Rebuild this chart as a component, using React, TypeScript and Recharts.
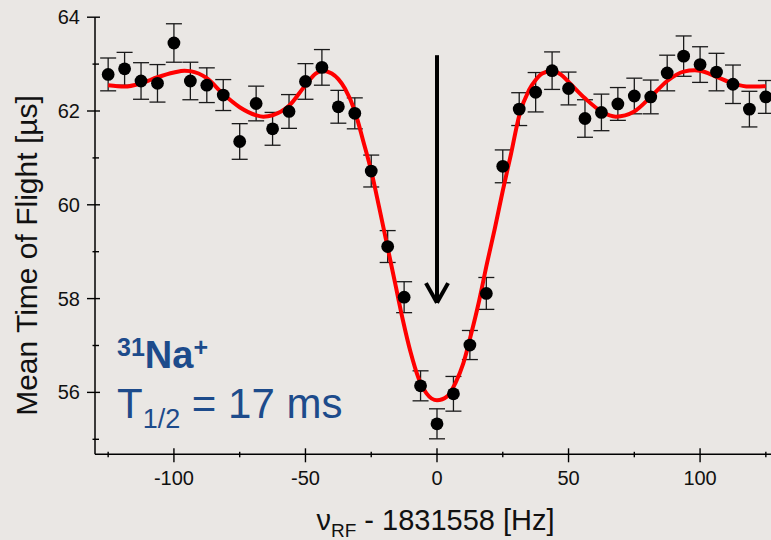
import {
  ComposedChart,
  ErrorBar,
  Line,
  ReferenceLine,
  Scatter,
  XAxis,
  YAxis,
} from "recharts";

// scan points: RF detuning (Hz) and mean time of flight (µs)
const freqs = [
  -125, -118.75, -112.5, -106.25, -100, -93.75, -87.5, -81.25, -75, -68.75, -62.5,
  -56.25, -50, -43.75, -37.5, -31.25, -25, -18.75, -12.5, -6.25, 0, 6.25, 12.5,
  18.75, 25, 31.25, 37.5, 43.75, 50, 56.25, 62.5, 68.75, 75, 81.25, 87.5, 93.75,
  100, 106.25, 112.5, 118.75, 125,
];
const tof = [
  62.78, 62.9, 62.64, 62.59, 63.45, 62.64, 62.55, 62.34, 61.35, 62.16, 61.62,
  61.99, 62.63, 62.93, 62.09, 61.95, 60.72, 59.11, 58.03, 56.14, 55.33, 55.97,
  57.01, 58.11, 60.82, 62.04, 62.4, 62.86, 62.48, 61.84, 61.97, 62.15, 62.32,
  62.3, 62.81, 63.17, 62.99, 62.83, 62.57, 62.04, 62.3,
];
const tofErr = [
  0.35, 0.35, 0.39, 0.4, 0.41, 0.4, 0.37, 0.33, 0.38, 0.37, 0.35, 0.36, 0.38,
  0.38, 0.35, 0.33, 0.34, 0.34, 0.33, 0.32, 0.32, 0.37, 0.31, 0.34, 0.35, 0.35,
  0.42, 0.4, 0.35, 0.4, 0.39, 0.35, 0.38, 0.36, 0.38, 0.43, 0.38, 0.4, 0.41,
  0.38, 0.35,
];

// fitted resonance curve
const fitFreqs = [
  -125, -118.75, -112.5, -106.25, -100, -96, -93.75, -87.5, -81.25, -75, -68.75,
  -66, -62.5, -56.25, -50, -46, -43.5, -40, -37.5, -35, -31.25, -28, -25, -22,
  -19, -16, -13, -10, -7, -4, 0, 4, 7, 10, 13, 16, 19, 22, 25, 28, 31.25, 35,
  37.5, 40, 43.75, 47, 50, 56.25, 62.5, 68, 75, 81.25, 87.5, 93.75, 98, 100,
  106.25, 112.5, 118.75, 125,
];
const fitTof = [
  62.55, 62.52, 62.59, 62.72, 62.82, 62.86, 62.85, 62.7, 62.36, 62.08, 61.91,
  61.88, 61.91, 62.11, 62.55, 62.8, 62.86, 62.8, 62.68, 62.48, 62.0, 61.35,
  60.72, 59.95, 59.15, 58.35, 57.55, 56.85, 56.3, 55.98, 55.83, 55.92, 56.2,
  56.62, 57.25, 57.95, 58.75, 59.5, 60.3, 61.05, 61.9, 62.45, 62.66, 62.8,
  62.86, 62.78, 62.62, 62.27, 61.99, 61.88, 61.99, 62.3, 62.64, 62.84, 62.87,
  62.86, 62.73, 62.59, 62.52, 62.53,
];

const xTicks = [-125, -100, -75, -50, -25, 0, 25, 50, 75, 100, 125];
const yTicks = [55, 56, 57, 58, 59, 60, 61, 62, 63, 64];

// arrow marking the centre frequency
const arrowTop = 63.19;
const arrowTip = 57.91;
const arrowWing = 58.33;
const arrowHalf = 4.2;

const scan = freqs.map((freq, i) => ({ freq, tof: tof[i], err: tofErr[i] }));
const fit = fitFreqs.map((freq, i) => ({ freq, fit: fitTof[i] }));

const FONT = "'Liberation Sans', Arial, sans-serif";
const BLUE = "#1d4b8b";

function BottomTick({ x, y, payload }: any) {
  const major = payload.value % 50 === 0;
  return (
    <g>
      <line
        x1={x}
        x2={x}
        y1={y - (major ? 6 : 2.5)}
        y2={y + (major ? 8 : 3)}
        stroke="#000"
        strokeWidth={1.4}
      />
      {major && (
        <text x={x} y={y + 31} textAnchor="middle" fontSize={20} fontFamily={FONT} fill="#111">
          {payload.value}
        </text>
      )}
    </g>
  );
}

function TopTick({ x, y, payload }: any) {
  const major = payload.value % 50 === 0;
  return <line x1={x} x2={x} y1={y} y2={y + (major ? 5 : 4)} stroke="#000" strokeWidth={1.4} />;
}

function LeftTick({ x, y, payload }: any) {
  const major = payload.value % 2 === 0;
  return (
    <g>
      <line
        x1={x - (major ? 8 : 2.5)}
        x2={x + (major ? 5 : 4)}
        y1={y}
        y2={y}
        stroke="#000"
        strokeWidth={1.4}
      />
      {major && (
        <text x={x - 15} y={y + 7} textAnchor="end" fontSize={20} fontFamily={FONT} fill="#111">
          {payload.value}
        </text>
      )}
    </g>
  );
}

const Dot = (p: any) => <circle cx={p.cx} cy={p.cy} r={6.4} fill="#000" />;

export default function App() {
  return (
    <div
      style={{
        position: "relative",
        width: 771,
        height: 540,
        overflow: "hidden",
        background: "#eae7e4",
      }}
    >
      <style>{"body{margin:0;overflow:hidden}"}</style>
      <ComposedChart
        width={800}
        height={540}
        margin={{ top: 17.2, right: 21, bottom: 45.7, left: 0 }}
      >
        <XAxis
          dataKey="freq"
          type="number"
          domain={[-130, 130]}
          ticks={xTicks}
          allowDataOverflow
          height={40}
          tickSize={0}
          tickMargin={0}
          tickLine={false}
          axisLine={{ stroke: "#000", strokeWidth: 1.5 }}
          tick={<BottomTick />}
          interval={0}
        />
        <XAxis
          xAxisId="top"
          orientation="top"
          dataKey="freq"
          type="number"
          domain={[-130, 130]}
          ticks={xTicks}
          allowDataOverflow
          height={0}
          tickSize={0}
          tickMargin={0}
          tickLine={false}
          axisLine={{ stroke: "#000", strokeWidth: 1.5 }}
          tick={<TopTick />}
          interval={0}
        />
        <YAxis
          type="number"
          domain={[54.68, 64]}
          ticks={yTicks}
          allowDataOverflow
          width={95}
          tickSize={0}
          tickMargin={0}
          tickLine={false}
          axisLine={{ stroke: "#000", strokeWidth: 1.5 }}
          tick={<LeftTick />}
          interval={0}
        />
        <Scatter data={scan} dataKey="tof" shape={Dot} isAnimationActive={false}>
          <ErrorBar
            dataKey="err"
            direction="y"
            width={8}
            stroke="#1a1a1a"
            strokeWidth={1.3}
            isAnimationActive={false}
          />
        </Scatter>
        <Line
          data={fit}
          dataKey="fit"
          type="monotone"
          stroke="#ff0000"
          strokeWidth={4}
          dot={false}
          activeDot={false}
          isAnimationActive={false}
        />
        <ReferenceLine
          segment={[
            { x: 0, y: arrowTop },
            { x: 0, y: arrowTip },
          ]}
          stroke="#000"
          strokeWidth={4}
          ifOverflow="visible"
        />
        <ReferenceLine
          segment={[
            { x: -arrowHalf, y: arrowWing },
            { x: 0, y: arrowTip },
          ]}
          stroke="#000"
          strokeWidth={4}
          ifOverflow="visible"
        />
        <ReferenceLine
          segment={[
            { x: arrowHalf, y: arrowWing },
            { x: 0, y: arrowTip },
          ]}
          stroke="#000"
          strokeWidth={4}
          ifOverflow="visible"
        />
      </ComposedChart>
      <svg
        width={771}
        height={540}
        style={{ position: "absolute", left: 0, top: 0, pointerEvents: "none" }}
        fontFamily={FONT}
      >
        <text
          transform="translate(37,255.5) rotate(-90)"
          textAnchor="middle"
          fontSize={30}
          fill="#111"
        >
          Mean Time of Flight [µs]
        </text>
        <text x={435.5} y={529.5} textAnchor="middle" fontSize={29} fill="#111">
          ν
          <tspan fontSize={19} dy={7}>
            RF
          </tspan>
          <tspan dy={-7}> - 1831558 [Hz]</tspan>
        </text>
        <text x={117} y={368} fontWeight="bold" fill={BLUE}>
          <tspan fontSize={25} dy={-12}>
            31
          </tspan>
          <tspan fontSize={38} dy={12}>
            Na
          </tspan>
          <tspan fontSize={25} dy={-12}>
            +
          </tspan>
        </text>
        <text x={117} y={418} fontSize={42} fill={BLUE}>
          T
          <tspan fontSize={27} dy={10}>
            1/2
          </tspan>
          <tspan dy={-10}> = 17 ms</tspan>
        </text>
      </svg>
    </div>
  );
}
